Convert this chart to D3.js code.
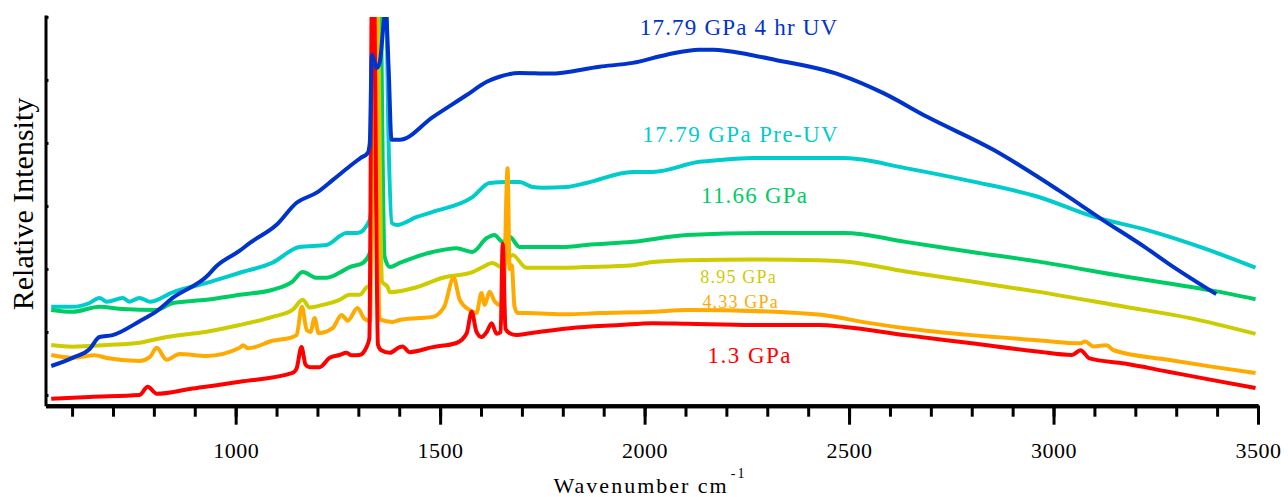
<!DOCTYPE html>
<html>
<head>
<meta charset="utf-8">
<script src="https://cdn.jsdelivr.net/npm/d3@7"></script>
<style>
  body { margin: 0; background: #fff; }
  text { font-family: "Liberation Serif", "Times New Roman", serif; }
</style>
</head>
<body>
<svg id="drawing_region"></svg>
<script>
// Raman spectra, wavenumber (cm-1) vs relative intensity (arbitrary units)
const red_13 = [
  [549,-0.6],[643,-0.3],[765,0.0],[785,1.3],[807,0.2],[888,0.95],[1010,2.1],[1139,3.5],
  [1149,4.2],[1161,7.6],[1171,4.8],[1181,4.4],[1205,4.4],[1230,5.9],[1254,6.35],[1271,6.7],
  [1284,6.3],[1303,6.35],[1320,7.6],[1327,9],[1334,70],[1337,70],[1348,8],[1356,7.1],
  [1377,6.7],[1401,7.6],[1408,7.7],[1425,6.8],[1482,7.6],[1540,8.25],[1565,9.8],[1577,13.2],
  [1589,10],[1601,9.2],[1614,10],[1626,11.4],[1638,9.7],[1648,10],[1653,24],[1660,10.5],
  [1670,9.8],[1687,9.5],[1719,9.8],[1817,10.6],[1939,11.1],[2020,11.4],[2104,11.3],[2264,11.1],
  [2425,11.1],[2489,10.8],[2638,9.5],[2800,8.2],[2960,6.9],[3045,6.35],[3066,7.1],[3088,5.8],
  [3174,5.0],[3280,3.7],[3386,2.4],[3494,1.1]
];
const orange_433 = [
  [549,6.35],[601,5.9],[655,6.3],[685,5.87],[765,5.4],[790,6.0],[807,7.5],[831,5.6],
  [863,6.5],[929,6.2],[1010,7.5],[1018,7.9],[1030,7.4],[1090,8.6],[1139,9.2],[1149,9.5],
  [1162,14.0],[1174,10.3],[1183,10.0],[1193,12.2],[1203,9.8],[1237,10.6],[1259,12.7],[1274,11.8],
  [1298,13.8],[1315,12.1],[1329,11.8],[1337,70],[1340,70],[1352,12],[1384,11.6],[1401,11.9],
  [1450,12.2],[1482,12.4],[1510,14.0],[1533,18.6],[1548,15.1],[1572,13.5],[1589,13.0],[1601,16.2],
  [1609,14.3],[1621,16.4],[1633,14.9],[1645,14.3],[1655,15.5],[1665,36.0],[1670,20],[1675,20.6],
  [1682,14],[1690,13.0],[1711,13.0],[1809,12.8],[1890,13.0],[2020,13.2],[2104,13.5],[2318,13.2],
  [2457,12.5],[2532,11.6],[2638,10.6],[2800,9.5],[2960,8.7],[3066,8.2],[3077,8.5],[3098,7.7],
  [3130,7.9],[3147,7.1],[3280,5.6],[3386,4.5],[3494,3.5]
];
const yellow_895 = [
  [549,7.94],[601,7.67],[685,7.94],[765,8.3],[831,9.2],[929,10.05],[1010,11.1],[1090,12.4],
  [1139,13.5],[1164,15.1],[1181,13.9],[1213,14.3],[1254,15.1],[1279,15.9],[1303,15.9],[1320,17.1],
  [1331,17.5],[1342,70],[1345,70],[1358,18],[1372,17.1],[1377,16.3],[1443,17.1],[1506,18.6],
  [1579,19.5],[1604,20.3],[1628,20.95],[1650,20.3],[1677,22.2],[1711,20.2],[1809,20.2],[1858,20.3],
  [1971,20.6],[2020,21.1],[2104,21.4],[2264,21.5],[2425,21.4],[2489,21.2],[2638,19.6],[2800,18.0],
  [2960,16.4],[3174,14.0],[3334,12.2],[3494,9.7]
];
const green_1166 = [
  [549,13.5],[601,13.2],[667,14.0],[724,13.65],[807,13.5],[846,14.6],[929,15.1],[1010,15.9],
  [1090,16.7],[1139,18.0],[1164,19.5],[1198,18.6],[1222,18.6],[1254,19.4],[1279,20.3],[1311,20.95],
  [1330,22.9],[1348,70],[1352,70],[1364,22],[1377,20.3],[1401,20.95],[1482,22.7],[1540,23.3],
  [1579,22.7],[1614,24.9],[1633,25.4],[1653,24.3],[1670,25.1],[1694,23.5],[1809,23.5],[1858,23.8],
  [1971,24.3],[2104,25.4],[2318,25.7],[2489,25.7],[2638,24.3],[2800,22.7],[2960,21.2],[3174,18.8],
  [3386,16.6],[3494,15.2]
];
const cyan_1779pre = [
  [549,14.0],[601,14.0],[643,14.6],[667,15.4],[685,14.8],[724,15.4],[740,14.8],[765,15.4],
  [790,14.8],[846,16.3],[929,17.8],[1010,19.4],[1090,21.0],[1156,23.5],[1222,23.8],[1271,25.7],
  [1298,25.7],[1328,27.8],[1340,40],[1354,70],[1366,70],[1374,40],[1382,27.3],[1394,26.98],
  [1443,28.25],[1482,29.05],[1579,31.4],[1621,33.65],[1663,33.8],[1694,33.8],[1726,33.0],[1751,32.9],
  [1809,33.0],[1858,33.65],[1971,35.4],[2020,35.4],[2134,37.0],[2183,37.3],[2264,37.6],[2489,37.6],
  [2638,36.0],[2800,33.9],[2960,31.5],[3098,28.3],[3227,26.2],[3367,23.3],[3494,20.2]
];
const blue_1779uv = [
  [549,4.6],[601,5.9],[643,7.3],[667,9.2],[699,9.5],[765,11.7],[807,13.3],[846,15.4],
  [929,18.8],[954,20.5],[1010,22.9],[1034,24.1],[1100,27.0],[1149,30.5],[1198,32.1],[1237,34.1],
  [1279,36.3],[1305,37.6],[1323,38.4],[1328,40],[1333,54.0],[1345,51.9],[1352,52.7],[1367,61],
  [1374,52],[1381,40.5],[1394,40.5],[1401,40.5],[1482,44.1],[1565,47.6],[1614,49.7],[1645,50.5],
  [1694,51.1],[1768,51.0],[1890,52.1],[1971,52.7],[2054,54.0],[2134,54.8],[2168,54.8],[2257,54.0],
  [2318,53.2],[2478,50.8],[2584,47.9],[2692,44.1],[2853,38.9],[3012,32.5],[3120,27.8],[3227,23.3],
  [3280,20.9],[3398,16.0]
];

// drawing order (back to front) with labels
const series_names = ['17.79 GPa Pre-UV','11.66 GPa','8.95 GPa','4.33 GPa','1.3 GPa','17.79 GPa 4 hr UV'];
const series_values = [cyan_1779pre, green_1166, yellow_895, orange_433, red_13, blue_1779uv];
const series_colors = ['#00cccc','#00cc66','#cccc00','#ffaa00','#ff0000','#0033cc'];
// label anchor (wavenumber, intensity) and font size
const label_pos = [[2235,40.2],[2269,30.5],[2230,17.8],[2235,13.8],[2257,5.0],[2231,57.1]];
const label_size = [23,23,18,18,23,23];
const label_spacing = [1.4,1.2,1.2,1.2,1.5,1.2];

const major_ticks = [1000,1500,2000,2500,3000,3500];
const minor_ticks = d3.range(600,3501,100);
const y_ticks = [0,10,20,30,40,50,60];

const config = {
  width: 1288,
  height: 497,
  left: 45.5, right: 1258, top: 15, bottom: 405.7
};

const svg = d3.select('#drawing_region')
  .attr('width', config.width)
  .attr('height', config.height);

const xscale = d3.scaleLinear().domain([535,3500]).range([config.left, config.right]);
const yscale = d3.scaleLinear().domain([-1.7,60.3]).range([config.bottom, config.top]);

svg.append('clipPath').attr('id','plotclip')
  .append('rect')
  .attr('x', config.left).attr('y', yscale(60))
  .attr('width', config.right - config.left + 5)
  .attr('height', config.bottom - yscale(60));

const line = d3.line()
  .x(d => xscale(d[0]))
  .y(d => yscale(d[1]))
  .curve(d3.curveMonotoneX);

const plot = svg.append('g').attr('clip-path','url(#plotclip)');
series_values.forEach((s,i) => {
  plot.append('path')
    .attr('d', line(s))
    .attr('fill','none')
    .attr('stroke', series_colors[i])
    .attr('stroke-width', 4)
    .attr('stroke-linejoin','round');
});

// labels
series_names.forEach((name,i) => {
  svg.append('text')
    .attr('x', xscale(label_pos[i][0]))
    .attr('y', yscale(label_pos[i][1]))
    .attr('text-anchor','middle')
    .attr('font-size', label_size[i])
    .attr('letter-spacing', label_spacing[i])
    .attr('fill', series_colors[i])
    .text(name);
});

// x axis: minor then major
const xaxis_minor = d3.axisBottom(xscale).tickValues(minor_ticks).tickSize(11).tickSizeOuter(0).tickFormat('');
const xaxis_major = d3.axisBottom(xscale).tickValues(major_ticks).tickSize(19).tickSizeOuter(0)
  .tickPadding(18).tickFormat(d3.format('d'));

const xg1 = svg.append('g').attr('transform',`translate(0,${config.bottom})`).call(xaxis_minor);
const xg2 = svg.append('g').attr('transform',`translate(0,${config.bottom})`).call(xaxis_major);
[xg1,xg2].forEach(g => {
  g.select('.domain').attr('stroke','#000').attr('stroke-width',4);
  g.selectAll('.tick line').attr('stroke','#000').attr('stroke-width',3);
});
xg2.selectAll('.tick text')
  .attr('font-size',22)
  .attr('font-family','"Liberation Serif", serif')
  .attr('letter-spacing',0.5)
  .attr('fill','#000');

const yaxis = d3.axisLeft(yscale).tickValues(y_ticks).tickSizeInner(-3).tickSizeOuter(0).tickFormat('');
const yg = svg.append('g').attr('transform',`translate(${config.left},0)`).call(yaxis);
yg.select('.domain').attr('stroke','#000').attr('stroke-width',3);
yg.selectAll('.tick line').attr('stroke','#000').attr('stroke-width',3);

// axis titles
const xtitle = svg.append('text')
  .attr('x', 650).attr('y', 493)
  .attr('text-anchor','middle')
  .attr('font-size', 22)
  .attr('letter-spacing', 2)
  .attr('fill','#000');
xtitle.append('tspan').text('Wavenumber cm');
xtitle.append('tspan').attr('font-size',14).attr('dy',-15).attr('dx',2).text('-1');

svg.append('text')
  .attr('transform','translate(33,204) rotate(-90)')
  .attr('text-anchor','middle')
  .attr('font-size', 30)
  .attr('fill','#000')
  .text('Relative Intensity');
</script>
</body>
</html>
